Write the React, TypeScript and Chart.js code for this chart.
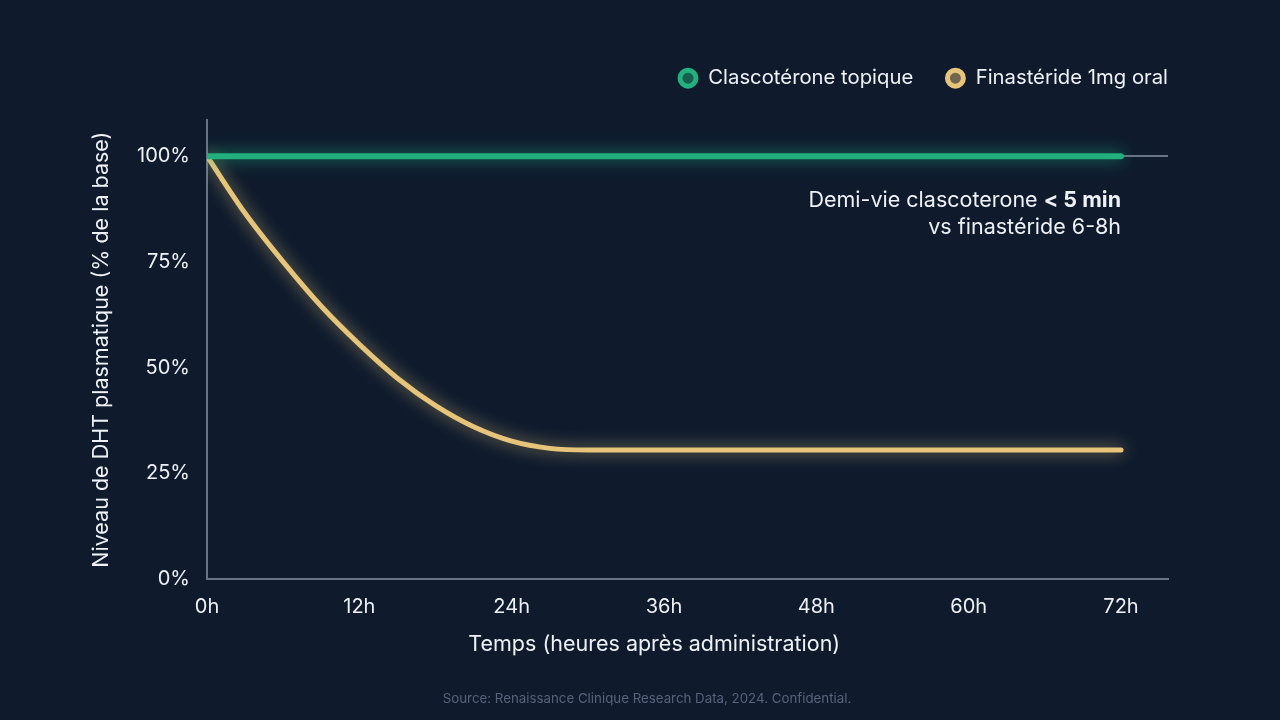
import React, { useEffect, useRef } from 'react';
import { Chart, registerables } from 'chart.js';
Chart.register(...registerables);

const seriesLabels = ['Clascotérone topique', 'Finastéride 1mg oral'];
const clascoteroneHours = [0, 72];
const clascoteroneLevels = [100, 100];
const finasterideHours = [0, 3, 6, 9, 12, 15, 18, 21, 24, 27, 30, 36, 48, 60, 72];
const finasterideLevels = [100, 86.5, 75, 64.5, 55.5, 47.5, 41, 36, 32.6, 30.9, 30.5, 30.5, 30.5, 30.5, 30.5];
const xTicks = [0, 12, 24, 36, 48, 60, 72];
const yTicks = [0, 25, 50, 75, 100];

const BG = '#0f1b2d';
const GREEN = '#22b07d';
const GOLD = '#e6c47a';
const AXIS = '#687384';
const TEXT = '#eef1f5';
const FONT = 'Inter';

// soft glow under each line
const glowPlugin = {
    id: 'glow',
    beforeDatasetDraw(chart: any, args: any) {
        const ds = chart.data.datasets[args.index];
        chart.ctx.save();
        chart.ctx.shadowColor = ds.glowColor;
        chart.ctx.shadowBlur = 16;
    },
    afterDatasetDraw(chart: any) {
        chart.ctx.restore();
    },
};

// more room under the legend, and let it run flush to the plot's right edge
const legendTweakPlugin = {
    id: 'legendTweak',
    beforeLayout(chart: any) {
        const legend = chart.legend;
        if (!legend || legend._tweaked) return;
        const fit = legend.fit;
        legend.fit = function () {
            fit.call(this);
            this.height += 22;
        };
        const draw = legend.draw;
        legend.draw = function (...args: any[]) {
            this.ctx.save();
            this.ctx.translate(32, 0);
            draw.apply(this, args);
            this.ctx.restore();
        };
        legend._tweaked = true;
    },
};

// half-life note, right-aligned on the 72h tick
const notePlugin = {
    id: 'note',
    afterDatasetsDraw(chart: any) {
        const { ctx, scales } = chart;
        const x = scales.x.getPixelForValue(72);
        const y = scales.y.getPixelForValue(100);
        ctx.save();
        ctx.fillStyle = TEXT;
        ctx.textAlign = 'right';
        ctx.textBaseline = 'middle';
        ctx.font = `700 21.5px ${FONT}`;
        const bold = '< 5 min';
        const boldW = ctx.measureText(bold).width;
        ctx.fillText(bold, x, y + 44);
        ctx.font = `400 21.5px ${FONT}`;
        ctx.fillText('Demi-vie clascoterone ', x - boldW, y + 44);
        ctx.fillText('vs finastéride 6-8h', x, y + 71);
        ctx.restore();
    },
};

const App: React.FC = () => {
    const canvasRef = useRef<HTMLCanvasElement>(null);
    const chartRef = useRef<Chart | null>(null);

    useEffect(() => {
        if (!canvasRef.current) return;
        if (chartRef.current) chartRef.current.destroy();

        const lineColors = [GREEN, GOLD];
        const legendFills = ['rgba(34,176,125,0.45)', 'rgba(230,196,122,0.45)'];

        chartRef.current = new Chart(canvasRef.current, {
            type: 'line',
            data: {
                datasets: [
                    {
                        label: seriesLabels[0],
                        data: clascoteroneHours.map((h, i) => ({ x: h, y: clascoteroneLevels[i] })),
                        borderColor: GREEN,
                        borderWidth: 6,
                        borderCapStyle: 'round',
                        pointRadius: 0,
                        glowColor: 'rgba(34,176,125,0.8)',
                    } as any,
                    {
                        label: seriesLabels[1],
                        data: finasterideHours.map((h, i) => ({ x: h, y: finasterideLevels[i] })),
                        borderColor: GOLD,
                        borderWidth: 5,
                        borderCapStyle: 'round',
                        cubicInterpolationMode: 'monotone',
                        pointRadius: 0,
                        glowColor: 'rgba(230,196,122,0.75)',
                    } as any,
                ],
            },
            options: {
                responsive: true,
                maintainAspectRatio: false,
                animation: false,
                layout: { padding: { top: 36, right: 112, bottom: 61, left: 80 } },
                plugins: {
                    tooltip: { enabled: false },
                    legend: {
                        position: 'top',
                        align: 'end',
                        labels: {
                            usePointStyle: true,
                            boxWidth: 32,
                            boxHeight: 11.3,
                            padding: 32,
                            color: TEXT,
                            font: { family: FONT, size: 20.3 },
                            generateLabels: (chart: any) =>
                                chart.data.datasets.map((ds: any, i: number) => ({
                                    text: ds.label,
                                    fillStyle: legendFills[i],
                                    strokeStyle: lineColors[i],
                                    lineWidth: 5,
                                    pointStyle: 'circle',
                                    hidden: false,
                                    datasetIndex: i,
                                    fontColor: TEXT,
                                })),
                        },
                    },
                },
                scales: {
                    x: {
                        type: 'linear',
                        min: 0,
                        max: 75.7,
                        afterBuildTicks: (scale: any) => { scale.ticks = xTicks.map(v => ({ value: v })); },
                        afterFit: (scale: any) => { scale.height = 80; },
                        grid: { display: false, drawTicks: false },
                        border: { color: AXIS, width: 2 },
                        ticks: {
                            color: TEXT,
                            padding: 16,
                            maxRotation: 0,
                            font: { family: FONT, size: 20 },
                            callback: (v: any) => `${v}h`,
                        },
                        title: {
                            display: true,
                            // trailing spaces nudge the centred title left, as in the original
                            text: 'Temps (heures après administration)           ',
                            color: TEXT,
                            font: { family: FONT, size: 21.5 },
                            padding: { top: 0, bottom: 2 },
                        },
                    },
                    y: {
                        min: 0,
                        max: 108.5,
                        afterBuildTicks: (scale: any) => { scale.ticks = yTicks.map(v => ({ value: v })); },
                        afterFit: (scale: any) => { scale.width = 127; },
                        grid: {
                            drawTicks: false,
                            lineWidth: 2,
                            color: (ctx: any) => (ctx.tick && ctx.tick.value === 100 ? AXIS : 'transparent'),
                        },
                        border: { color: AXIS, width: 2 },
                        ticks: {
                            color: TEXT,
                            padding: 17,
                            font: { family: FONT, size: 20 },
                            callback: (v: any) => `${v}%`,
                        },
                        title: {
                            display: true,
                            text: 'Niveau de DHT plasmatique (% de la base)',
                            color: TEXT,
                            font: { family: FONT, size: 21.5 },
                            padding: { top: 9, bottom: 0 },
                        },
                    },
                },
            },
            plugins: [glowPlugin, legendTweakPlugin, notePlugin],
        });

        return () => {
            if (chartRef.current) chartRef.current.destroy();
            chartRef.current = null;
        };
    }, []);

    return (
        <div style={{ position: 'fixed', left: 0, top: 0, width: 1280, height: 720, background: BG }}>
            <div style={{ position: 'absolute', inset: 0 }}>
                <canvas ref={canvasRef}></canvas>
            </div>
            <div
                style={{
                    position: 'absolute',
                    left: 7,
                    width: 1280,
                    top: 690,
                    textAlign: 'center',
                    fontFamily: FONT,
                    fontSize: 13.3,
                    lineHeight: '16px',
                    color: '#56627a',
                }}
            >
                Source: Renaissance Clinique Research Data, 2024. Confidential.
            </div>
        </div>
    );
};

export default App;
